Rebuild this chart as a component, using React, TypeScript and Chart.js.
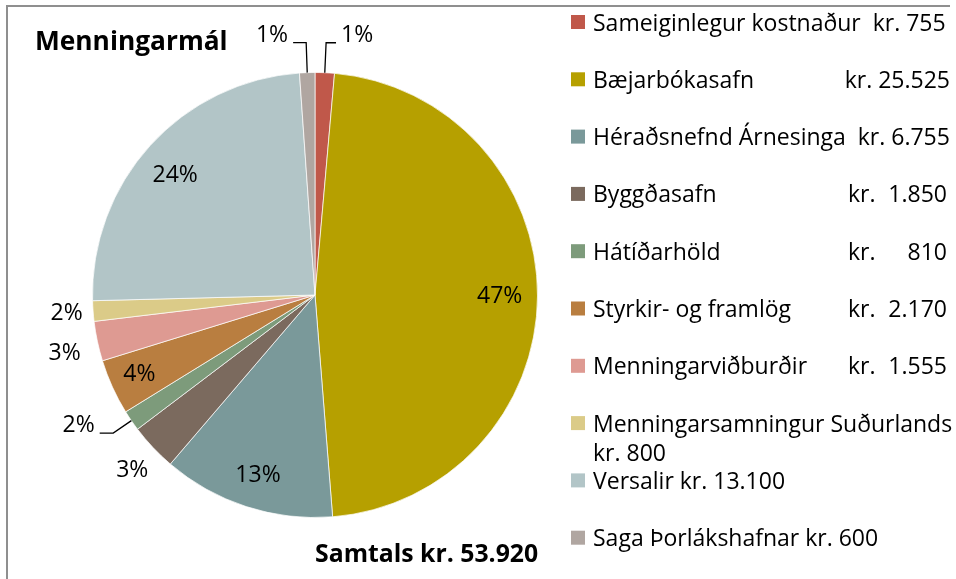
import React, { useEffect, useRef } from "react";
import { Chart, registerables } from "chart.js";

Chart.register(...registerables);

// ---- data ----
const categories = [
  "Sameiginlegur kostnaður",
  "Bæjarbókasafn",
  "Héraðsnefnd Árnesinga",
  "Byggðasafn",
  "Hátíðarhöld",
  "Styrkir- og framlög",
  "Menningarviðburðir",
  "Menningarsamningur Suðurlands",
  "Versalir",
  "Saga Þorlákshafnar",
];
const amounts = [755, 25525, 6755, 1850, 810, 2170, 1555, 800, 13100, 600];
const percentLabels = ["1%", "47%", "13%", "3%", "2%", "4%", "3%", "2%", "24%", "1%"];
const colors = [
  "#C0584A",
  "#B6A000",
  "#7A999A",
  "#7B6A5E",
  "#7D9B7B",
  "#B97E40",
  "#DE9A92",
  "#DBCB88",
  "#B2C5C7",
  "#B0A6A1",
];
const titleText = "Menningarmál";
const totalText = "Samtals kr. 53.920";

// ---- layout / style (not data) ----
// per slice: angle shift (deg), radius factor, leader length (0 = none)
const labelLayout = [
  { dA: 6.7, rf: 1.181, leader: 30 },
  { dA: 0.3, rf: 0.83, leader: 0 },
  { dA: -0.5, rf: 0.851, leader: 0 },
  { dA: -0.6, rf: 1.139, leader: 0 },
  { dA: 5.45, rf: 1.214, leader: 22 },
  { dA: 0, rf: 0.867, leader: 0 },
  { dA: -1.2, rf: 1.156, leader: 0 },
  { dA: 0, rf: 1.119, leader: 0 },
  { dA: -1.7, rf: 0.827, leader: 0 },
  { dA: -7.4, rf: 1.182, leader: 30 },
];
const legendMode = ["inline2", "column", "inline2", "column", "column", "column", "column", "wrap", "inline", "inline"];

const FONT = "'Open Sans', Lato, sans-serif";
const LABEL_FONT = `23px ${FONT}`;
const TITLE_FONT = `bold 26.3px ${FONT}`;
const TOTAL_FONT = `bold 24.8px ${FONT}`;

function fmt(n: number): string {
  return "kr. " + String(n).replace(/\B(?=(\d{3})+(?!\d))/g, ".");
}

const decorPlugin = {
  id: "decor",
  afterDraw(chart: any) {
    const ctx = chart.ctx as CanvasRenderingContext2D;
    ctx.save();
    // frame (top and left)
    ctx.strokeStyle = "#8f8f8f";
    ctx.lineWidth = 2;
    ctx.beginPath();
    ctx.moveTo(7, 579);
    ctx.lineTo(7, 6);
    ctx.lineTo(950, 6);
    ctx.stroke();

    // titles
    ctx.fillStyle = "#000";
    ctx.textAlign = "left";
    ctx.textBaseline = "alphabetic";
    ctx.font = TITLE_FONT;
    ctx.fillText(titleText, 35, 50);
    ctx.font = TOTAL_FONT;
    ctx.fillText(totalText, 315, 562);

    // percent labels
    const meta = chart.getDatasetMeta(0);
    ctx.font = LABEL_FONT;
    ctx.textAlign = "center";
    ctx.textBaseline = "middle";
    meta.data.forEach((arc: any, i: number) => {
      const p = arc.getProps(["x", "y", "startAngle", "endAngle", "outerRadius"], true);
      const mid = (p.startAngle + p.endAngle) / 2;
      const lay = labelLayout[i];
      const a = mid + (lay.dA * Math.PI) / 180;
      const lx = p.x + Math.cos(a) * lay.rf * p.outerRadius;
      const ly = p.y + Math.sin(a) * lay.rf * p.outerRadius;
      const text = percentLabels[i];
      ctx.fillStyle = "#000";
      ctx.fillText(text, lx, ly);
      if (lay.leader > 0) {
        const ax = p.x + Math.cos(mid) * p.outerRadius;
        const ay = p.y + Math.sin(mid) * p.outerRadius;
        const ex = ax + Math.cos(mid) * lay.leader;
        const ey = ay + Math.sin(mid) * lay.leader;
        const w = ctx.measureText(text).width;
        const endX = lx < ex ? lx + w / 2 + 5 : lx - w / 2 - 5;
        ctx.strokeStyle = "#000";
        ctx.lineWidth = 1.3;
        ctx.beginPath();
        ctx.moveTo(ax, ay);
        ctx.lineTo(ex, ey);
        ctx.lineTo(endX, ey);
        ctx.stroke();
      }
    });

    // legend
    const sqX = 571;
    const txtX = 593;
    const krX = 848;
    const rightX = 947;
    const row0 = 22;
    const step = 57.3;
    ctx.font = LABEL_FONT;
    ctx.textBaseline = "alphabetic";
    categories.forEach((name, i) => {
      const cy = row0 + i * step;
      ctx.fillStyle = colors[i];
      ctx.fillRect(sqX, cy - 7, 14, 14);
      ctx.fillStyle = "#000";
      ctx.textAlign = "left";
      const base = cy + 8.5;
      const amt = fmt(amounts[i]);
      const mode = legendMode[i];
      if (mode === "inline2") {
        ctx.fillText(name + "  " + amt, txtX, base);
      } else if (mode === "inline") {
        ctx.fillText(name + " " + amt, txtX, base);
      } else if (mode === "wrap") {
        ctx.fillText(name, txtX, base);
        ctx.fillText(amt, txtX, base + 29);
      } else {
        ctx.fillText(name, txtX, base);
        const parts = amt.split(" ");
        const numW = ctx.measureText(parts[1]).width;
        const krW = ctx.measureText(parts[0] + " ").width;
        if (rightX - numW < krX + krW) {
          ctx.textAlign = "right";
          ctx.fillText(amt, rightX + 3, base);
        } else {
          ctx.fillText(parts[0], krX, base);
          ctx.textAlign = "right";
          ctx.fillText(parts[1], rightX, base);
        }
      }
    });
    ctx.restore();
  },
};

export default function App() {
  const ref = useRef<HTMLCanvasElement>(null);
  useEffect(() => {
    if (!ref.current) return;
    const chart = new Chart(ref.current, {
      type: "pie",
      data: {
        labels: categories,
        datasets: [
          {
            data: amounts,
            backgroundColor: colors,
            borderColor: "rgba(255,255,255,0.7)",
            borderWidth: 1,
          },
        ],
      },
      options: {
        responsive: false,
        animation: false,
        layout: { padding: { left: 92, right: 418, top: 72, bottom: 61 } },
        plugins: {
          legend: { display: false },
          title: { display: false },
          tooltip: { enabled: false },
        },
      },
      plugins: [decorPlugin],
    });
    return () => chart.destroy();
  }, []);
  return (
    <div style={{ position: "fixed", left: 0, top: 0, width: 956, height: 579, background: "#fff" }}>
      <canvas ref={ref} width={956} height={579} style={{ display: "block" }} />
    </div>
  );
}
